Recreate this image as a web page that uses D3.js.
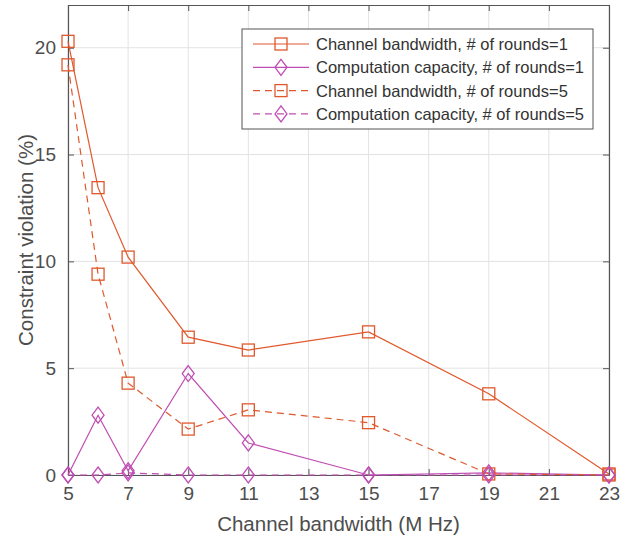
<!DOCTYPE html>
<html>
<head>
<meta charset="utf-8">
<script src="https://cdn.jsdelivr.net/npm/d3@7"></script>
<style>
  body { margin: 0; background: #fff; }
  text { font-family: "Liberation Sans", Arial, sans-serif; }
</style>
</head>
<body>
<script>
// data
const bandwidths = [5, 6, 7, 9, 11, 15, 19, 23];
const bwRounds1 = [20.3, 13.45, 10.2, 6.45, 5.85, 6.7, 3.8, 0.05];
const ccRounds1 = [0, 2.8, 0.2, 4.75, 1.5, 0, 0.1, 0];
const bwRounds5 = [19.2, 9.4, 4.3, 2.15, 3.05, 2.45, 0.05, 0];
const ccRounds5 = [0, 0, 0.1, 0, 0, 0, 0, 0];
const xTicks = [5, 7, 9, 11, 13, 15, 17, 19, 21, 23];
const yTicks = [0, 5, 10, 15, 20];

const seriesNames = [
  "Channel bandwidth, # of rounds=1",
  "Computation capacity, # of rounds=1",
  "Channel bandwidth, # of rounds=5",
  "Computation capacity, # of rounds=5"
];

const ORANGE = "#e0582c";
const MAGENTA = "#c04db3";

const series = [
  { name: seriesNames[0], vals: bwRounds1, color: ORANGE, dash: null, marker: "square" },
  { name: seriesNames[1], vals: ccRounds1, color: MAGENTA, dash: null, marker: "diamond" },
  { name: seriesNames[2], vals: bwRounds5, color: ORANGE, dash: "7,5", marker: "square" },
  { name: seriesNames[3], vals: ccRounds5, color: MAGENTA, dash: "7,5", marker: "diamond" }
];

const W = 641, H = 542;
const margin = { left: 68, right: 32, top: 5, bottom: 67 };

const svg = d3.select("body").append("svg").attr("width", W).attr("height", H);

const x = d3.scaleLinear().domain([5, 23]).range([margin.left, W - margin.right]);
const y = d3.scaleLinear().domain([0, 22]).range([H - margin.bottom, margin.top]);

// grid
svg.append("g").selectAll("line").data(xTicks).join("line")
  .attr("x1", d => x(d)).attr("x2", d => x(d))
  .attr("y1", y(0)).attr("y2", y(22))
  .attr("stroke", "#e3e3e3").attr("stroke-width", 1);
svg.append("g").selectAll("line").data(yTicks).join("line")
  .attr("x1", x(5)).attr("x2", x(23))
  .attr("y1", d => y(d)).attr("y2", d => y(d))
  .attr("stroke", "#e3e3e3").attr("stroke-width", 1);

// axes
const xAxis = svg.append("g").attr("transform", `translate(0,${y(0)})`)
  .call(d3.axisBottom(x).tickValues(xTicks).tickSize(-6).tickPadding(12).tickSizeOuter(0));
const xTop = svg.append("g").attr("transform", `translate(0,${y(22)})`)
  .call(d3.axisTop(x).tickValues(xTicks).tickSize(-6).tickFormat("").tickSizeOuter(0));
const yAxis = svg.append("g").attr("transform", `translate(${x(5)},0)`)
  .call(d3.axisLeft(y).tickValues(yTicks).tickSize(-6).tickPadding(12).tickSizeOuter(0));
const yRight = svg.append("g").attr("transform", `translate(${x(23)},0)`)
  .call(d3.axisRight(y).tickValues(yTicks).tickSize(-6).tickFormat("").tickSizeOuter(0));

[xAxis, xTop, yAxis, yRight].forEach(g => {
  g.select(".domain").attr("stroke", "#555").attr("stroke-width", 1.2);
  g.selectAll(".tick line").attr("stroke", "#555");
  g.selectAll(".tick text").attr("fill", "#4d4d4d").attr("font-size", 19)
    .style("font-family", "'Liberation Sans', Arial, sans-serif");
});

// lines
const line = d3.line().x((d, i) => x(bandwidths[i])).y(d => y(d));

function drawMarker(g, type, cx, cy, color) {
  if (type === "square") {
    g.append("rect").attr("x", cx - 6).attr("y", cy - 6).attr("width", 12).attr("height", 12)
      .attr("fill", "none").attr("stroke", color).attr("stroke-width", 1.3);
  } else {
    g.append("path").attr("d", "M0,-8L6,0L0,8L-6,0Z").attr("transform", `translate(${cx},${cy})`)
      .attr("fill", "none").attr("stroke", color).attr("stroke-width", 1.3);
  }
}

series.forEach(s => {
  svg.append("path").datum(s.vals)
    .attr("d", line).attr("fill", "none")
    .attr("stroke", s.color).attr("stroke-width", 1.2)
    .attr("stroke-dasharray", s.dash);
  const mg = svg.append("g");
  s.vals.forEach((v, i) => drawMarker(mg, s.marker, x(bandwidths[i]), y(v), s.color));
});

// axis labels
svg.append("text").attr("x", x(14)).attr("y", 531)
  .attr("text-anchor", "middle").attr("font-size", 20.5).attr("fill", "#4d4d4d")
  .text("Channel bandwidth (M Hz)");
svg.append("text")
  .attr("transform", `translate(33,${y(11)}) rotate(-90)`)
  .attr("text-anchor", "middle").attr("font-size", 20.5).attr("fill", "#4d4d4d")
  .text("Constraint violation (%)");

// legend
const lg = svg.append("g").attr("transform", "translate(242,29)");
lg.append("rect").attr("width", 351).attr("height", 100)
  .attr("fill", "#fff").attr("stroke", "#555").attr("stroke-width", 1);
series.forEach((s, i) => {
  const ly = 15 + i * 23.3;
  lg.append("line").attr("x1", 11).attr("x2", 67).attr("y1", ly).attr("y2", ly)
    .attr("stroke", s.color).attr("stroke-width", 1.2).attr("stroke-dasharray", s.dash);
  drawMarker(lg, s.marker, 39, ly, s.color);
  lg.append("text").attr("x", 74).attr("y", ly + 6)
    .attr("font-size", 16.5).attr("fill", "#333").text(s.name);
});
</script>
</body>
</html>
